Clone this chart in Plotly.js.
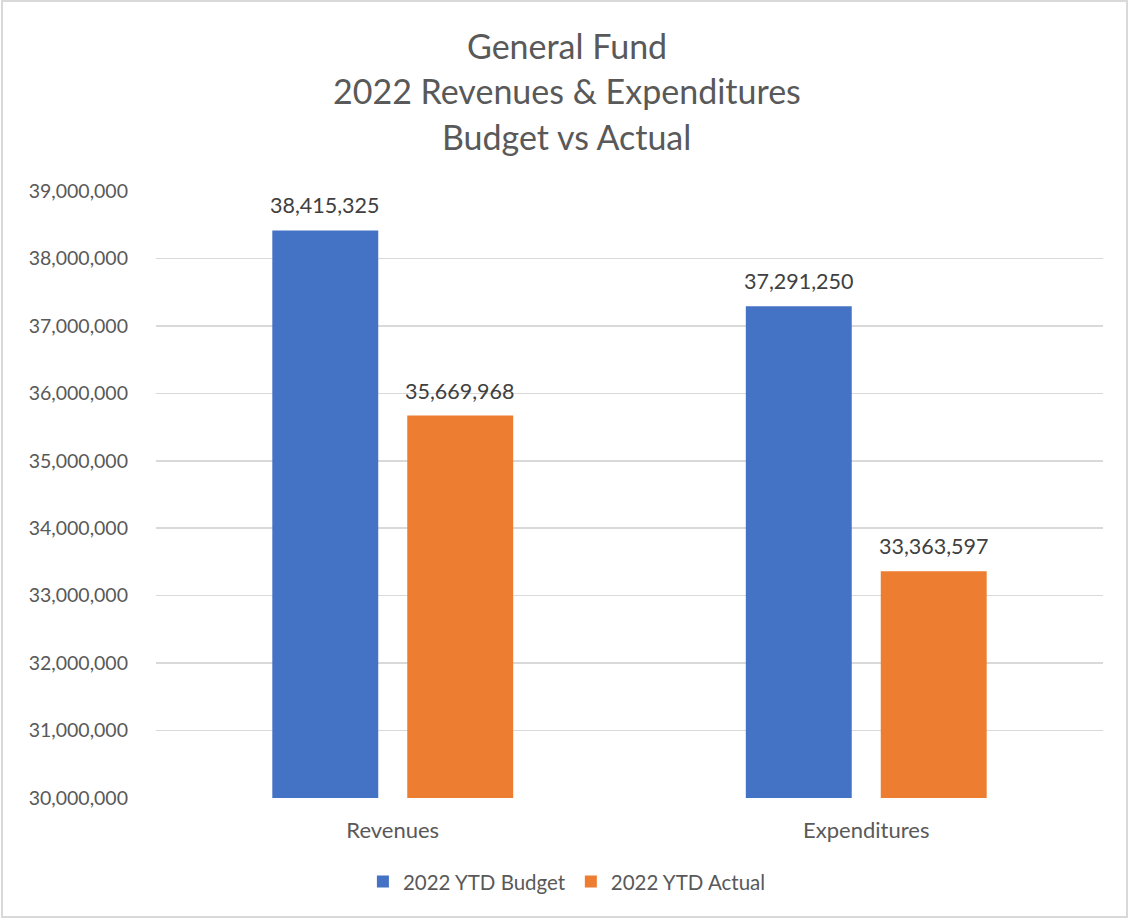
<!DOCTYPE html>
<html>
<head>
<meta charset="utf-8">
<script src="https://cdn.plot.ly/plotly-3.0.1.min.js"></script>
<style>
  html, body { margin: 0; padding: 0; background: #fff; }
  #frame { position: absolute; left: 1px; top: 0px; width: 1127px; height: 918px; border: 2px solid #d9d9d9; box-sizing: border-box; }
  #chart { position: absolute; left: 0; top: 0; width: 1130px; height: 921px; }
</style>
</head>
<body>
<div id="frame"></div>
<div id="chart"></div>
<script>
const categories = ["Revenues", "Expenditures"];
const budgetValues = [38415325, 37291250];
const actualValues = [35669968, 33363597];
const seriesNames = ["2022 YTD Budget", "2022 YTD Actual"];
const titleLines = ["General Fund", "2022 Revenues &amp; Expenditures", "Budget vs Actual"];

const FONT = "Lato, 'Open Sans', sans-serif";

const traces = [
  {
    type: "bar", name: seriesNames[0], x: categories, y: budgetValues,
    marker: { color: "#4472C4" }, hoverinfo: "none"
  },
  {
    type: "bar", name: seriesNames[1], x: categories, y: actualValues,
    marker: { color: "#ED7D31" }, hoverinfo: "none"
  }
];

const fmt = v => v.toLocaleString("en-US");

const titleY = [45, 91, 137];
const annotations = titleLines.map((t, i) => ({
  text: t, xref: "paper", yref: "paper", x: 0.4339, y: 1 + (191 - titleY[i]) / 607,
  xanchor: "center", yanchor: "middle", showarrow: false,
  font: { family: FONT, size: 34, color: "#595959" }
}));

[budgetValues, actualValues].forEach((vals, s) => {
  vals.forEach((v, i) => {
    annotations.push({
      text: fmt(v), x: categories[i], y: v, xref: "x", yref: "y",
      xanchor: "center", yanchor: "middle", showarrow: false,
      xshift: s === 0 ? -67.5 : 67.5, yshift: 25,
      font: { family: FONT, size: 21.5, color: "#404040" }
    });
  });
});

const layout = {
  width: 1130, height: 921,
  paper_bgcolor: "rgba(0,0,0,0)", plot_bgcolor: "rgba(0,0,0,0)",
  margin: { l: 156, r: 27, t: 191, b: 123 },
  barmode: "group", bargap: 0.43, bargroupgap: 0.215,
  showlegend: true,
  legend: {
    orientation: "h", x: 0.4339, xanchor: "center", y: -0.138, yanchor: "middle",
    font: { family: FONT, size: 20.5, color: "#595959" }, itemwidth: 30
  },
  xaxis: {
    type: "category", showgrid: false, showline: false, ticks: "",
    tickfont: { family: FONT, size: 22, color: "#595959" },
    ticklabelstandoff: 17
  },
  yaxis: {
    range: [30000000, 39000000], dtick: 1000000, tickformat: ",d",
    showgrid: true, gridcolor: "#d9d9d9", gridwidth: 1.5,
    zeroline: false, showline: false, ticks: "",
    tickfont: { family: FONT, size: 19.5, color: "#595959" },
    ticklabelstandoff: 27
  },
  annotations: annotations
};

Plotly.newPlot("chart", traces, layout, { displayModeBar: false, staticPlot: true });
</script>
</body>
</html>
